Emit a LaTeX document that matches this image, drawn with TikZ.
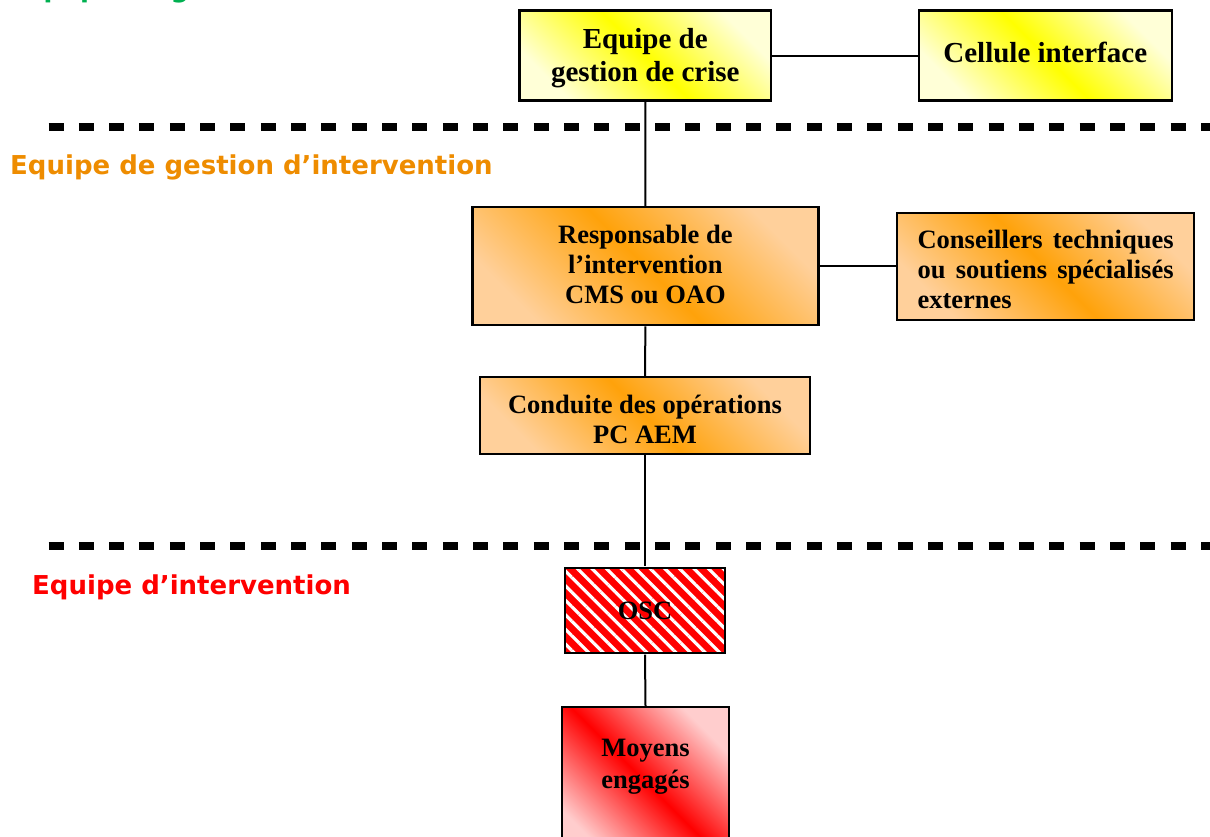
\documentclass[tikz,border=0pt]{standalone}
\usepackage{fontspec}
\setmainfont{Liberation Serif}
\newfontfamily\labelfont{DejaVu Sans}
\usetikzlibrary{patterns.meta}
\definecolor{ysat}{RGB}{255,255,0}
\definecolor{ylight}{RGB}{255,255,215}
\definecolor{osat}{RGB}{255,162,10}
\definecolor{olight}{RGB}{255,208,155}
\definecolor{rsat}{RGB}{255,0,0}
\definecolor{rlight}{RGB}{255,205,205}
\definecolor{lgreen}{RGB}{0,176,80}
\definecolor{lorange}{RGB}{238,140,0}
\definecolor{lred}{RGB}{255,0,0}
% lower the ink of a centred block without changing its reported size
\newcommand{\nudge}[2]{\raisebox{#1}[\height][\depth]{\begin{tabular}{@{}c@{}}#2\end{tabular}}}

\begin{document}
\begin{tikzpicture}[x=1pt,y=-1pt,
  box/.style={draw=black, line width=2.2pt, inner sep=0pt, align=center,
    font=\bfseries\fontsize{26.5}{30}\selectfont},
  ybox/.style={box, top color=ylight, bottom color=ylight, middle color=ysat,
    shading angle=-45, font=\bfseries\fontsize{29}{33}\selectfont},
  obox/.style={box, top color=olight, bottom color=olight, middle color=osat,
    shading angle=-45},
  rbox/.style={box, top color=rlight, bottom color=rlight, middle color=rsat,
    shading angle=-45},
  hbox/.style={box, preaction={fill=rsat},
    pattern={Lines[angle=-45,distance=10.3pt,line width=3.2pt]}, pattern color=white},
  link/.style={draw=black, line width=2pt},
  sep/.style={draw=black, line width=7.5pt, dash pattern=on 15pt off 15.33pt},
  lbl/.style={anchor=base west, inner sep=0pt,
    font=\labelfont\bfseries\fontsize{26}{30}\selectfont},
]
\useasboundingbox (0,0) rectangle (1210,836);
\clip (0,0) rectangle (1210,836);

% level separators
\coordinate (s1a) at (48.5,127);
\coordinate (s1b) at (1215,127);
\coordinate (s2a) at (48.5,546);
\coordinate (s2b) at (1215,546);
\draw[sep] (s1a) -- (s1b);
\draw[sep] (s2a) -- (s2b);

% level titles
\node[lbl, text=lgreen] (tgreen) at (16,-3) {Equipe de gestion de crise};
\node[lbl, text=lorange] (torange) at (10,174) {Equipe de gestion d’intervention};
\node[lbl, text=lred] (tred) at (32,594) {Equipe d’intervention};

% boxes
\node[ybox, minimum width=251.5pt, minimum height=90pt] (crise) at (645.25,55.5)
  {\nudge{-3pt}{Equipe de\\gestion de crise}};
\node[ybox, minimum width=253pt, minimum height=90pt] (cell) at (1045.25,55.5)
  {\nudge{-0.5pt}{Cellule interface}};
\node[obox, minimum width=346pt, minimum height=118pt] (resp) at (645.4,266.2)
  {\nudge{-1.5pt}{Responsable de\\l’intervention\\CMS ou OAO}};
\node[obox, minimum width=297pt, minimum height=107pt] (cons) at (1045.6,266.6)
  {\raisebox{-3pt}[\height][\depth]{\parbox{256pt}{\raggedright
   Conseillers\hfill techniques\\ou\hfill soutiens\hfill spécialisés\\externes}}};
\node[obox, minimum width=330pt, minimum height=77pt] (cond) at (645,415.5)
  {\nudge{-6.5pt}{Conduite des opérations\\PC AEM}};
\node[hbox, minimum width=160pt, minimum height=85pt] (osc) at (645,610.5) {OSC};
\node[rbox, minimum width=167pt, minimum height=150pt, anchor=north] (moy)
  at (645.5,706) {};
\node[inner sep=0pt, align=center, font=\bfseries\fontsize{26.5}{32}\selectfont]
  (moytxt) at (645.5,766.5) {Moyens\\engagés};

% connectors
\draw[link] (crise.east) -- (cell.west);
\draw[link] (resp.east) -- (resp.east -| cons.west);
\draw[link] (crise.south) -- (resp.north);
\draw[link] (resp.south) -- (cond.north);
\draw[link] (cond.south) -- (osc.north);
\draw[link] (osc.south) -- (moy.north);
\end{tikzpicture}
\end{document}
